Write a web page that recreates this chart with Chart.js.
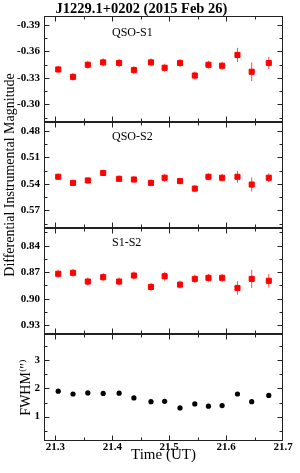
<!DOCTYPE html>
<html>
<head>
<meta charset="utf-8">
<title>J1229.1+0202 light curves</title>
<script src="https://cdn.jsdelivr.net/npm/chart.js@4.4.0/dist/chart.umd.min.js"></script>
<style>
  html, body { margin: 0; padding: 0; background: #fff; }
  #wrap { position: relative; width: 300px; height: 473px; }
  #wrap canvas { position: absolute; left: 0; }
</style>
</head>
<body>
<div id="wrap">
  <canvas id="p1" width="300" height="122" style="top:0"></canvas>
  <canvas id="p3" width="300" height="106" style="top:228px"></canvas>
  <canvas id="p4" width="300" height="139" style="top:334px"></canvas>
  <canvas id="p2" width="300" height="318" style="top:16px"></canvas>
</div>
<script>
// Observation times (UT hours)
const times = [21.305, 21.331, 21.357, 21.384, 21.412, 21.438, 21.468, 21.492,
               21.519, 21.545, 21.569, 21.593, 21.620, 21.645, 21.675];

// Differential magnitudes and their errors
const qsoS1 = [-0.3395, -0.3311, -0.3448, -0.3475, -0.3468, -0.3388, -0.3475, -0.3414,
               -0.3468, -0.3326, -0.3448, -0.3437, -0.3559, -0.3369, -0.3468];
const qsoS1Err = [0.004, 0.0045, 0.0045, 0.0045, 0.0045, 0.0045, 0.0045, 0.0045,
                  0.0045, 0.0045, 0.0045, 0.0045, 0.008, 0.0105, 0.007];

const qsoS2 = [0.532, 0.5389, 0.5362, 0.5277, 0.5343, 0.5351, 0.5389, 0.5331,
               0.5369, 0.5454, 0.532, 0.5331, 0.532, 0.5408, 0.5331];
const qsoS2Err = [0.0035, 0.0035, 0.0035, 0.0035, 0.0035, 0.0035, 0.0038, 0.0045,
                  0.0035, 0.0042, 0.0038, 0.0042, 0.0068, 0.008, 0.005];

const s1s2 = [0.8718, 0.8707, 0.8806, 0.8757, 0.8806, 0.8738, 0.8867, 0.8746,
              0.8841, 0.8776, 0.8764, 0.8764, 0.8879, 0.8776, 0.8798];
const s1s2Err = [0.0045, 0.0045, 0.0045, 0.0045, 0.0045, 0.0045, 0.0045, 0.005,
                 0.0045, 0.0048, 0.0045, 0.0045, 0.0077, 0.0103, 0.0075];

// Seeing (arcsec)
const fwhm = [1.90, 1.80, 1.84, 1.82, 1.83, 1.66, 1.53, 1.54,
              1.31, 1.45, 1.37, 1.39, 1.80, 1.53, 1.75];

// Tick labels
const timeTicks = [21.3, 21.4, 21.5, 21.6, 21.7];
const s1Ticks = [-0.39, -0.36, -0.33, -0.30];
const s2Ticks = [0.48, 0.51, 0.54, 0.57];
const s1s2Ticks = [0.84, 0.87, 0.90, 0.93];
const fwhmTicks = [1, 2, 3];

const panelNames = ['QSO-S1', 'QSO-S2', 'S1-S2'];

Chart.defaults.font.family = "'Liberation Serif', 'DejaVu Serif', serif";
Chart.defaults.color = '#000';

const RED = '#ff0000';

/**
 * Frame around the plot area with inward major/minor ticks on all four sides
 */
const frameTicks = {
    id: 'frameTicks',
    afterDraw(chart, args, opts) {
        const { ctx, chartArea: a, scales } = chart;
        const L = Math.round(a.left) + 0.5, R = Math.round(a.right) - 0.5;
        const T = Math.round(a.top) + 0.5, B = Math.round(a.bottom) - 0.5;
        ctx.save();
        ctx.strokeStyle = '#222';
        ctx.lineWidth = 1;
        ctx.strokeRect(L, T, R - L, B - T);

        const isMajor = (v, majors) => majors.some(m => Math.abs(m - v) < 1e-6);

        // x ticks
        const xs = scales.x;
        let v = Math.ceil(xs.min / opts.xMinor - 1e-6) * opts.xMinor;
        for (; v <= xs.max + 1e-9; v += opts.xMinor) {
            const px = Math.round(xs.getPixelForValue(v)) + 0.5;
            if (px <= L + 1 || px >= R - 1) continue;
            const len = isMajor(v, timeTicks) ? 5 : 3;
            ctx.beginPath();
            ctx.moveTo(px, B); ctx.lineTo(px, B - len);
            ctx.moveTo(px, T); ctx.lineTo(px, T + len);
            ctx.stroke();
        }

        // y ticks
        const ys = scales.y;
        v = Math.ceil(ys.min / opts.yMinor - 1e-6) * opts.yMinor;
        for (; v <= ys.max + 1e-9; v += opts.yMinor) {
            const py = Math.round(ys.getPixelForValue(v)) + 0.5;
            if (py <= T + 1 || py >= B - 1) continue;
            const len = isMajor(v, opts.yMajors) ? 5 : 3;
            ctx.beginPath();
            ctx.moveTo(L, py); ctx.lineTo(L + len, py);
            ctx.moveTo(R, py); ctx.lineTo(R - len, py);
            ctx.stroke();
        }
        ctx.restore();
    }
};

/**
 * Vertical error bars read from dataset.errors
 */
const errorBars = {
    id: 'errorBars',
    beforeDatasetsDraw(chart) {
        const { ctx, scales } = chart;
        ctx.save();
        chart.data.datasets.forEach(ds => {
            if (!ds.errors) return;
            ctx.strokeStyle = ds.errorColor || ds.backgroundColor;
            ctx.lineWidth = 1;
            ds.data.forEach((p, i) => {
                const e = ds.errors[i];
                const px = scales.x.getPixelForValue(p.x);
                const y1 = scales.y.getPixelForValue(p.y - e);
                const y2 = scales.y.getPixelForValue(p.y + e);
                ctx.beginPath();
                ctx.moveTo(px, y1);
                ctx.lineTo(px, y2);
                ctx.stroke();
            });
        });
        ctx.restore();
    }
};

/**
 * Small label in the upper part of a panel
 */
const panelLabel = {
    id: 'panelLabel',
    afterDraw(chart, args, opts) {
        if (!opts.text) return;
        const { ctx, chartArea: a } = chart;
        ctx.save();
        ctx.font = "12px 'Liberation Serif', serif";
        ctx.fillStyle = '#000';
        ctx.textBaseline = 'middle';
        ctx.fillText(opts.text, a.left + 68, a.top + opts.dy);
        ctx.restore();
    }
};

function xScale(showLabels) {
    return {
        type: 'linear',
        min: 21.28,
        max: 21.70,
        display: showLabels,
        afterBuildTicks: s => { s.ticks = timeTicks.map(t => ({ value: t })); },
        afterFit: s => {
            s.height = showLabels ? 32 : 0;
            s.paddingLeft = 0; s.paddingRight = 0;
        },
        grid: { display: false, drawTicks: false },
        border: { display: false },
        ticks: {
            padding: 0,
            maxRotation: 0,
            autoSkip: false,
            font: { size: 11, weight: 'bold' },
            callback: v => v.toFixed(1)
        },
        title: {
            display: true,
            text: 'Time (UT)',
            font: { size: 15 },
            padding: { top: 0, bottom: 9 }
        }
    };
}

function yScale(min, max, majors, reverse, digits, titleText, titlePad) {
    return {
        type: 'linear',
        min: min,
        max: max,
        reverse: reverse,
        afterBuildTicks: s => { s.ticks = majors.map(t => ({ value: t })); },
        afterFit: s => {
            s.width = 44;
            s.paddingTop = 0; s.paddingBottom = 0;
        },
        grid: { display: false, drawTicks: false },
        border: { display: false },
        ticks: {
            padding: 4,
            autoSkip: false,
            font: { size: 11, weight: 'bold' },
            callback: v => v.toFixed(digits)
        },
        title: {
            display: !!titleText,
            text: titleText || '',
            font: { size: 14 },
            padding: { top: titlePad || 0, bottom: 0 }
        }
    };
}

function makePanel(id, opts) {
    const ctx = document.getElementById(id).getContext('2d');
    return new Chart(ctx, {
        type: 'scatter',
        data: {
            datasets: [{
                data: times.map((t, i) => ({ x: t, y: opts.values[i] })),
                errors: opts.errors,
                errorColor: 'rgba(255, 40, 40, 0.85)',
                backgroundColor: opts.color,
                borderColor: opts.color,
                pointStyle: opts.pointStyle,
                pointRadius: opts.radius,
                pointBorderWidth: opts.borderWidth
            }]
        },
        options: {
            responsive: false,
            animation: false,
            layout: { padding: opts.padding, autoPadding: false },
            scales: {
                x: xScale(opts.showX),
                y: opts.y
            },
            plugins: {
                legend: { display: false },
                tooltip: { enabled: false },
                title: opts.title || { display: false },
                frameTicks: { xMinor: 0.05, yMinor: opts.yMinor, yMajors: opts.yMajors },
                panelLabel: opts.label || {}
            }
        },
        plugins: [errorBars, frameTicks, panelLabel]
    });
}

makePanel('p1', {
    values: qsoS1, errors: qsoS1Err, color: RED, pointStyle: 'rect', radius: 3.6, borderWidth: 1,
    padding: { left: 0, right: 17, top: 0, bottom: 0 },
    showX: false,
    y: yScale(-0.40, -0.28, s1Ticks, true, 2),
    yMinor: 0.015, yMajors: s1Ticks,
    title: {
        display: true,
        text: 'J1229.1+0202 (2015 Feb 26)',
        font: { size: 14.5, weight: 'bold', lineHeight: '14px' },
        padding: { top: 2, bottom: 0 }
    },
    label: { text: panelNames[0], dy: 17 }
});

makePanel('p2', {
    values: qsoS2, errors: qsoS2Err, color: RED, pointStyle: 'rect', radius: 3.6, borderWidth: 1,
    padding: { left: 0, right: 17, top: 106, bottom: 106 },
    showX: false,
    y: yScale(0.47, 0.59, s2Ticks, true, 2, 'Differential Instrumental Magnitude', 2),
    yMinor: 0.015, yMajors: s2Ticks,
    label: { text: panelNames[1], dy: 15 }
});

makePanel('p3', {
    values: s1s2, errors: s1s2Err, color: RED, pointStyle: 'rect', radius: 3.6, borderWidth: 1,
    padding: { left: 0, right: 17, top: 0, bottom: 0 },
    showX: false,
    y: yScale(0.82, 0.94, s1s2Ticks, true, 2),
    yMinor: 0.015, yMajors: s1s2Ticks,
    label: { text: panelNames[2], dy: 15 }
});

makePanel('p4', {
    values: fwhm, errors: null, color: '#000', pointStyle: 'circle', radius: 2.6, borderWidth: 0,
    padding: { left: 0, right: 17, top: 0, bottom: 0 },
    showX: true,
    y: yScale(0.14, 3.92, fwhmTicks, false, 0, 'FWHM\u207D\u2033\u207E', 18),
    yMinor: 0.5, yMajors: fwhmTicks
});
</script>
</body>
</html>
